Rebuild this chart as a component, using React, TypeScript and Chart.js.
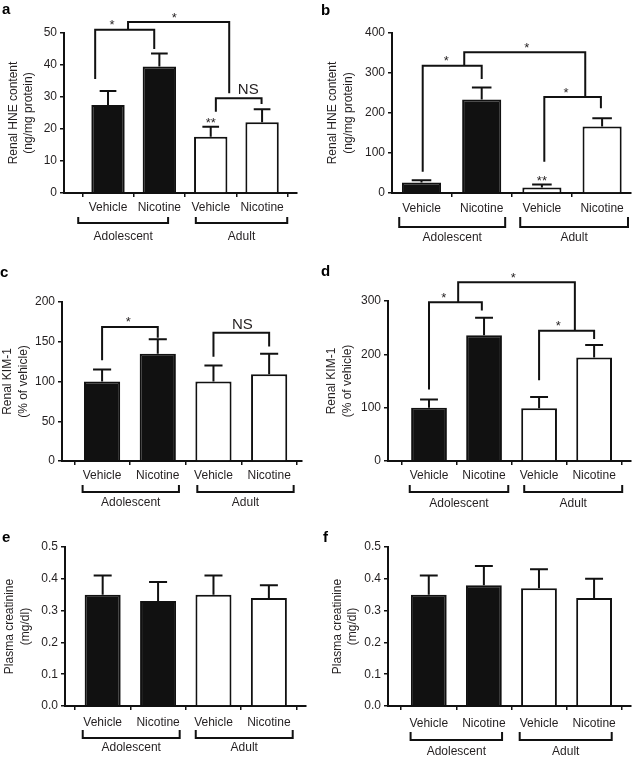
import React, { useEffect, useRef } from 'react';
import { Chart, registerables } from 'chart.js';

Chart.register(...registerables);

const FONT = '"Liberation Sans", Arial, Helvetica, sans-serif';
const INK = '#111111';
const TEXT = '#231f20';
Chart.defaults.font.family = FONT;
Chart.defaults.color = TEXT;

// ---------- data ----------
const categories = ['Vehicle', 'Nicotine', 'Vehicle', 'Nicotine'];
const groups = ['Adolescent', 'Adult'];
const barFills = ['#111111', '#111111', '#ffffff', '#ffffff'];

const aValues = [27.5, 39.5, 17.6, 22.1];
const aErrors = [4.4, 4.1, 3.1, 4.1];
const bValues = [26, 234, 14, 166];
const bErrors = [6, 30, 7.5, 21];
const cValues = [100, 135, 100, 109];
const cErrors = [15, 18, 20, 26];
const dValues = [100, 236, 99, 194];
const dErrors = [15.5, 32.5, 21, 23.5];
const eValues = [0.35, 0.33, 0.35, 0.34];
const eErrors = [0.06, 0.06, 0.06, 0.04];
const fValues = [0.35, 0.38, 0.37, 0.34];
const fErrors = [0.06, 0.06, 0.06, 0.06];

const hneTitle = ['Renal HNE content', '(ng/mg protein)'];
const kimTitle = ['Renal KIM-1', '(% of vehicle)'];
const creatTitle = ['Plasma creatinine', '(mg/dl)'];

type Sig = { x1: number; y1: number; x2: number; y2: number; top: number; label: string; lx: number };
type Mark = { bar: number; label: string };

const aBrackets: Sig[] = [
  { x1: -0.25, y1: 35.6, x2: 0.9, y2: 45, top: 51, label: '*', lx: 0.08 },
  { x1: 0.39, y1: 51, x2: 2.36, y2: 31.2, top: 53.4, label: '*', lx: 1.29 },
  { x1: 2.1, y1: 25.4, x2: 2.99, y2: 27.8, top: 29.6, label: 'NS', lx: 2.73 },
];
const bBrackets: Sig[] = [
  { x1: 0.02, y1: 53, x2: 1, y2: 285, top: 318, label: '*', lx: 0.41 },
  { x1: 0.71, y1: 318, x2: 2.72, y2: 240, top: 352, label: '*', lx: 1.75 },
  { x1: 2.04, y1: 78, x2: 2.98, y2: 212, top: 240, label: '*', lx: 2.4 },
];
const cBrackets: Sig[] = [
  { x1: 0, y1: 126.6, x2: 1, y2: 155, top: 168.6, label: '*', lx: 0.47 },
  { x1: 2, y1: 131, x2: 3, y2: 144, top: 161.4, label: 'NS', lx: 2.52 },
];
const dBrackets: Sig[] = [
  { x1: 0, y1: 134, x2: 0.96, y2: 282, top: 297.5, label: '*', lx: 0.27 },
  { x1: 0.53, y1: 297.5, x2: 2.65, y2: 244, top: 335, label: '*', lx: 1.53 },
  { x1: 2, y1: 151.5, x2: 3, y2: 228.6, top: 244, label: '*', lx: 2.35 },
];
const aMarks: Mark[] = [{ bar: 2, label: '**' }];
const bMarks: Mark[] = [{ bar: 2, label: '**' }];

const aGroupSpans = [[-0.58, 1.17], [1.71, 3.49]];
const bGroupSpans = [[-0.37, 1.39], [1.64, 3.43]];
const cGroupSpans = [[-0.35, 1.38], [1.71, 3.44]];
const dGroupSpans = [[-0.35, 1.44], [1.73, 3.51]];
const eGroupSpans = [[-0.36, 1.39], [1.68, 3.43]];
const fGroupSpans = [[-0.33, 1.33], [1.65, 3.32]];

// ---------- panel layout ----------
interface PanelCfg {
  letter: string;
  values: number[];
  errors: number[];
  yMax: number;
  yStep: number;
  decimals: number;
  title: string[];
  sigs: Sig[];
  marks: Mark[];
  groupSpans: number[][];
  box: { left: number; top: number; w: number; h: number };
  area: { left: number; top: number; right: number; bottom: number };
  xMin: number;
  xMax: number;
  titlePad: number;
  letterPos: [number, number];
  tickPad: number;
  groupLine: number;
  groupLeg: number;
  groupLabel: number;
}

const panels: PanelCfg[] = [
  {
    letter: 'a', values: aValues, errors: aErrors, yMax: 50, yStep: 10, decimals: 0, title: hneTitle,
    sigs: aBrackets, marks: aMarks, groupSpans: aGroupSpans,
    box: { left: 0, top: 0, w: 316, h: 258 }, area: { left: 64, top: 33, right: 297, bottom: 193 },
    xMin: -0.857, xMax: 3.68, titlePad: 5.5, letterPos: [2, 14], tickPad: 3,
    groupLine: 30, groupLeg: 6, groupLabel: 44,
  },
  {
    letter: 'b', values: bValues, errors: bErrors, yMax: 400, yStep: 100, decimals: 0, title: hneTitle,
    sigs: bBrackets, marks: bMarks, groupSpans: bGroupSpans,
    box: { left: 316, top: 0, w: 317, h: 258 }, area: { left: 76, top: 33, right: 315, bottom: 193 },
    xMin: -0.49, xMax: 3.48, titlePad: 9, letterPos: [5, 15], tickPad: 4,
    groupLine: 34, groupLeg: 10, groupLabel: 45,
  },
  {
    letter: 'c', values: cValues, errors: cErrors, yMax: 200, yStep: 50, decimals: 0, title: kimTitle,
    sigs: cBrackets, marks: [], groupSpans: cGroupSpans,
    box: { left: 0, top: 258, w: 316, h: 252 }, area: { left: 62, top: 44, right: 302, bottom: 203 },
    xMin: -0.72, xMax: 3.59, titlePad: 0, letterPos: [0, 19], tickPad: 3,
    groupLine: 31, groupLeg: 7, groupLabel: 42,
  },
  {
    letter: 'd', values: dValues, errors: dErrors, yMax: 300, yStep: 100, decimals: 0, title: kimTitle,
    sigs: dBrackets, marks: [], groupSpans: dGroupSpans,
    box: { left: 316, top: 258, w: 317, h: 252 }, area: { left: 72, top: 43, right: 315, bottom: 203 },
    xMin: -0.745, xMax: 3.67, titlePad: 8, letterPos: [5, 18], tickPad: 3,
    groupLine: 31, groupLeg: 7, groupLabel: 43,
  },
  {
    letter: 'e', values: eValues, errors: eErrors, yMax: 0.5, yStep: 0.1, decimals: 1, title: creatTitle,
    sigs: [], marks: [], groupSpans: eGroupSpans,
    box: { left: 0, top: 510, w: 316, h: 248 }, area: { left: 65, top: 37, right: 306, bottom: 196 },
    xMin: -0.68, xMax: 3.67, titlePad: 2, letterPos: [2, 32], tickPad: 5,
    groupLine: 32, groupLeg: 8, groupLabel: 42,
  },
  {
    letter: 'f', values: fValues, errors: fErrors, yMax: 0.5, yStep: 0.1, decimals: 1, title: creatTitle,
    sigs: [], marks: [], groupSpans: fGroupSpans,
    box: { left: 316, top: 510, w: 317, h: 248 }, area: { left: 72, top: 37, right: 315, bottom: 196 },
    xMin: -0.74, xMax: 3.67, titlePad: 13.5, letterPos: [7, 32], tickPad: 6,
    groupLine: 34, groupLeg: 8, groupLabel: 46,
  },
];

function makeOverlay(cfg: PanelCfg) {
  return {
    id: 'overlay_' + cfg.letter,
    afterDatasetsDraw(chart: any) {
      const ctx: CanvasRenderingContext2D = chart.ctx;
      const xs = chart.scales.x;
      const ys = chart.scales.y;
      const meta = chart.getDatasetMeta(0);
      ctx.save();
      ctx.strokeStyle = INK;
      ctx.lineWidth = 2;
      ctx.lineCap = 'butt';
      ctx.lineJoin = 'miter';
      // error bars (upper only)
      const errTops: number[] = [];
      meta.data.forEach((bar: any, i: number) => {
        const top = ys.getPixelForValue(cfg.values[i] + cfg.errors[i]);
        errTops.push(top);
        const half = bar.width * 0.25;
        ctx.beginPath();
        ctx.moveTo(bar.x, bar.y);
        ctx.lineTo(bar.x, top);
        ctx.moveTo(bar.x - half, top);
        ctx.lineTo(bar.x + half, top);
        ctx.stroke();
      });
      // significance brackets
      ctx.fillStyle = TEXT;
      ctx.textAlign = 'center';
      ctx.textBaseline = 'alphabetic';
      cfg.sigs.forEach((s) => {
        const x1 = xs.getPixelForValue(s.x1);
        const x2 = xs.getPixelForValue(s.x2);
        const yt = ys.getPixelForValue(s.top);
        ctx.beginPath();
        ctx.moveTo(x1, ys.getPixelForValue(s.y1));
        ctx.lineTo(x1, yt);
        ctx.lineTo(x2, yt);
        ctx.lineTo(x2, ys.getPixelForValue(s.y2));
        ctx.stroke();
        if (s.label === 'NS') {
          ctx.font = '15px ' + FONT;
          ctx.fillText(s.label, xs.getPixelForValue(s.lx), yt - 4);
        } else {
          ctx.font = '13px ' + FONT;
          ctx.fillText(s.label, xs.getPixelForValue(s.lx), yt - 0.5);
        }
      });
      cfg.marks.forEach((m) => {
        ctx.font = '13px ' + FONT;
        ctx.fillText(m.label, meta.data[m.bar].x, errTops[m.bar] + 0.5);
      });
      // group brackets
      const base = chart.chartArea.bottom;
      cfg.groupSpans.forEach((sp, gi) => {
        const xa = xs.getPixelForValue(sp[0]);
        const xb = xs.getPixelForValue(sp[1]);
        const ly = base + cfg.groupLine;
        ctx.beginPath();
        ctx.moveTo(xa, ly - cfg.groupLeg);
        ctx.lineTo(xa, ly);
        ctx.lineTo(xb, ly);
        ctx.lineTo(xb, ly - cfg.groupLeg);
        ctx.stroke();
        ctx.font = '12px ' + FONT;
        ctx.textBaseline = 'middle';
        ctx.fillText(groups[gi], (xa + xb) / 2, base + cfg.groupLabel);
        ctx.textBaseline = 'alphabetic';
      });
      // panel letter
      ctx.font = 'bold 15px ' + FONT;
      ctx.textAlign = 'left';
      ctx.fillStyle = '#000';
      ctx.fillText(cfg.letter, cfg.letterPos[0], cfg.letterPos[1]);
      ctx.restore();
    },
  };
}

function Panel({ cfg }: { cfg: PanelCfg }) {
  const ref = useRef<HTMLCanvasElement | null>(null);
  useEffect(() => {
    const canvas = ref.current;
    if (!canvas) return;
    const { w, h } = cfg.box;
    const a = cfg.area;
    const chart = new Chart(canvas, {
      type: 'bar',
      data: {
        datasets: [
          {
            data: cfg.values.map((v, i) => ({ x: i, y: v })) as any,
            backgroundColor: barFills,
            borderColor: INK,
            borderWidth: 2,
            categoryPercentage: 1,
            barPercentage: 0.65,
          },
        ],
      },
      options: {
        responsive: false,
        animation: false,
        events: [],
        layout: { padding: { left: 0, top: a.top, right: w - a.right, bottom: 0 } },
        plugins: { legend: { display: false }, tooltip: { enabled: false } },
        scales: {
          x: {
            type: 'linear',
            min: cfg.xMin,
            max: cfg.xMax,
            offset: false,
            afterBuildTicks: (s: any) => {
              s.ticks = categories.map((_, i) => ({ value: i }));
            },
            afterFit: (s: any) => {
              s.height = h - a.bottom;
            },
            ticks: {
              autoSkip: false,
              maxRotation: 0,
              padding: cfg.tickPad,
              color: TEXT,
              font: { size: 12, family: FONT },
              callback: (_v: any, i: number) => categories[i],
            },
            grid: { drawOnChartArea: false, drawTicks: true, tickLength: 4, color: INK, lineWidth: 1.5 },
            border: { display: true, color: INK, width: 2 },
          },
          y: {
            type: 'linear',
            min: 0,
            max: cfg.yMax,
            afterFit: (s: any) => {
              s.width = a.left;
            },
            ticks: {
              stepSize: cfg.yStep,
              padding: 3,
              color: TEXT,
              font: { size: 12, family: FONT },
              callback: (v: any) => Number(v).toFixed(cfg.decimals),
            },
            grid: { drawOnChartArea: false, drawTicks: true, tickLength: 4, color: INK, lineWidth: 1.5 },
            border: { display: true, color: INK, width: 2 },
            title: {
              display: true,
              text: cfg.title,
              color: TEXT,
              font: { size: 12, family: FONT, lineHeight: 1.3 },
              padding: { top: cfg.titlePad, bottom: 0 },
            },
          },
        },
      } as any,
      plugins: [makeOverlay(cfg)],
    });
    return () => chart.destroy();
  }, [cfg]);
  return (
    <canvas
      ref={ref}
      width={cfg.box.w}
      height={cfg.box.h}
      style={{ position: 'absolute', left: cfg.box.left, top: cfg.box.top, width: cfg.box.w, height: cfg.box.h }}
    />
  );
}

export default function App() {
  return (
    <div style={{ position: 'absolute', left: 0, top: 0, width: 633, height: 758, background: '#fff', overflow: 'hidden' }}>
      {panels.map((p) => (
        <Panel key={p.letter} cfg={p} />
      ))}
    </div>
  );
}
